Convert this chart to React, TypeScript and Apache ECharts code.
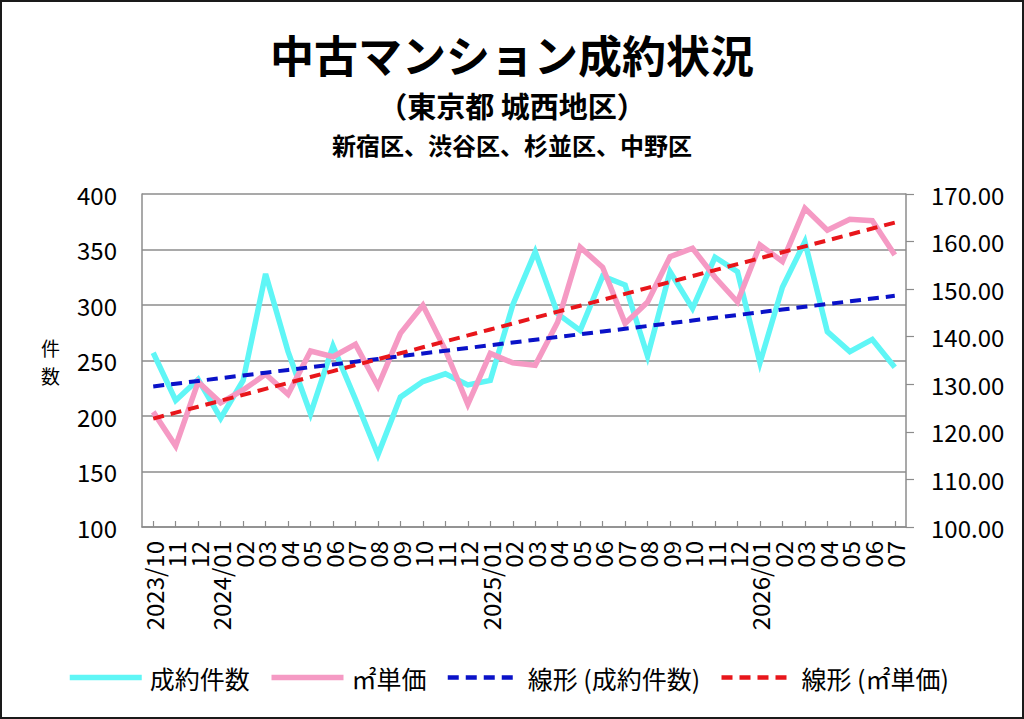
import React, { useEffect, useRef } from "react";
import * as echarts from "echarts";

const categories = [
  "2023/10", "11", "12", "2024/01", "02", "03", "04", "05", "06", "07", "08", "09",
  "10", "11", "12", "2025/01", "02", "03", "04", "05", "06", "07", "08", "09",
  "10", "11", "12", "2026/01", "02", "03", "04", "05", "06", "07",
];

const contractCounts = [
  257, 214, 233, 198, 232, 328, 258, 202, 263, 215, 165, 217, 231, 238, 228, 232, 300,
  348, 292, 277, 326, 318, 254, 330, 297, 343, 330, 248, 316, 357, 276, 258, 269, 244,
];

const unitPrices = [
  124.2, 117.0, 130.5, 126.1, 128.8, 132.1, 127.9, 137.0, 135.8, 138.4, 129.6, 140.7,
  146.6, 137.2, 125.8, 136.5, 134.5, 134.0, 143.1, 158.8, 154.6, 142.8, 147.3, 156.8,
  158.6, 152.5, 147.3, 159.3, 155.8, 167.0, 162.4, 164.7, 164.4, 157.2,
];

const leftTicks = { min: 100, max: 400, interval: 50 };
const rightTicks = { min: 100, max: 170, interval: 10 };

const seriesNames = ["成約件数", "㎡単価", "線形 (成約件数)", "線形 (㎡単価)"];

// Excel-style linear trendline (least squares over index)
function linearTrend(values: number[]): number[] {
  const n = values.length;
  let sx = 0, sy = 0, sxx = 0, sxy = 0;
  values.forEach((y, x) => {
    sx += x; sy += y; sxx += x * x; sxy += x * y;
  });
  const slope = (n * sxy - sx * sy) / (n * sxx - sx * sx);
  const icpt = (sy - slope * sx) / n;
  return values.map((_, x) => +(icpt + slope * x).toFixed(3));
}

const FONT = "'Noto Sans CJK JP', 'Noto Sans', sans-serif";
const CYAN = "#5ff6f6";
const PINK = "#f59ac4";
const BLUE = "#0a12c8";
const RED = "#e8161b";

export default function App() {
  const ref = useRef<HTMLDivElement>(null);

  useEffect(() => {
    if (!ref.current) return;
    const chart = echarts.init(ref.current, null, { renderer: "svg" });
    const option = {
      animation: false,
      backgroundColor: "#ffffff",
      textStyle: { fontFamily: FONT, color: "#000" },
      title: [
        {
          text: "中古マンション成約状況",
          left: "center",
          top: 24,
          textStyle: { fontFamily: FONT, fontSize: 44, lineHeight: 50, fontWeight: "bold", color: "#000" },
        },
        {
          text: "（東京都 城西地区）",
          left: "center",
          top: 90,
          padding: 0,
          textStyle: { fontFamily: FONT, fontSize: 29, lineHeight: 30, fontWeight: "bold", color: "#000" },
        },
        {
          text: "新宿区、渋谷区、杉並区、中野区",
          left: "center",
          top: 132,
          padding: 0,
          textStyle: { fontFamily: FONT, fontSize: 24, lineHeight: 24, fontWeight: "bold", color: "#000" },
        },
      ],
      graphic: [
        {
          type: "rect",
          shape: { x: 1, y: 1, width: 1022, height: 717 },
          style: { fill: "none", stroke: "#1a1a1a", lineWidth: 2 },
          silent: true,
        },
        {
          type: "text",
          left: 41,
          top: 334,
          style: { text: "件", fontFamily: FONT, fontSize: 19, lineHeight: 27, fill: "#000" },
        },
        {
          type: "text",
          left: 41,
          top: 362,
          style: { text: "数", fontFamily: FONT, fontSize: 19, lineHeight: 27, fill: "#000" },
        },
      ],
      legend: {
        left: 62,
        top: 660,
        itemWidth: 72,
        itemHeight: 14,
        itemGap: 19,
        itemStyle: { opacity: 0 },
        textStyle: { fontFamily: FONT, fontSize: 25, color: "#000", padding: [0, 0, 0, 3] },
        data: [
          { name: seriesNames[0], itemStyle: { opacity: 0 }, lineStyle: { width: 5.5 } },
          { name: seriesNames[1], itemStyle: { opacity: 0 }, lineStyle: { width: 5.5 } },
          { name: seriesNames[2], itemStyle: { opacity: 0 }, lineStyle: { width: 4.5 } },
          { name: seriesNames[3], itemStyle: { opacity: 0 }, lineStyle: { width: 4.5 } },
        ],
      },
      grid: { left: 142, right: 118, top: 194, bottom: 192, containLabel: false },
      xAxis: {
        type: "category",
        data: categories,
        boundaryGap: true,
        axisLine: { show: true, lineStyle: { color: "#8c8c8c", width: 1.5 } },
        axisTick: { show: true, inside: true, alignWithLabel: true, length: 6, lineStyle: { color: "#8c8c8c", width: 1.2 } },
        axisLabel: {
          interval: 0,
          rotate: 90,
          margin: 14,
          fontFamily: FONT,
          fontSize: 24,
          color: "#000",
        },
      },
      yAxis: [
        {
          type: "value",
          min: leftTicks.min,
          max: leftTicks.max,
          interval: leftTicks.interval,
          axisLine: { show: true, lineStyle: { color: "#8c8c8c", width: 1.5 } },
          axisTick: { show: false },
          splitLine: { show: true, lineStyle: { color: "#8c8c8c", width: 1.5 } },
          axisLabel: { margin: 25, fontFamily: FONT, fontSize: 24, color: "#000" },
        },
        {
          type: "value",
          position: "right",
          min: rightTicks.min,
          max: rightTicks.max,
          interval: rightTicks.interval,
          axisLine: { show: true, lineStyle: { color: "#8c8c8c", width: 1.5 } },
          axisTick: { show: true, length: 8, lineStyle: { color: "#8c8c8c", width: 1.2 } },
          splitLine: { show: false },
          axisLabel: {
            margin: 25,
            fontFamily: FONT,
            fontSize: 24,
            color: "#000",
            formatter: (v: number) => v.toFixed(2),
          },
        },
      ],
      series: [
        {
          name: seriesNames[0],
          type: "line",
          yAxisIndex: 0,
          data: contractCounts,
          symbol: "none",
          lineStyle: { color: CYAN, width: 5.5, join: "miter" },
          itemStyle: { color: CYAN },
          z: 2,
        },
        {
          name: seriesNames[1],
          type: "line",
          yAxisIndex: 1,
          data: unitPrices,
          symbol: "none",
          lineStyle: { color: PINK, width: 5.5, join: "miter" },
          itemStyle: { color: PINK },
          z: 3,
        },
        {
          name: seriesNames[2],
          type: "line",
          yAxisIndex: 0,
          data: linearTrend(contractCounts),
          symbol: "none",
          lineStyle: { color: BLUE, width: 4, type: [11, 7] },
          itemStyle: { color: BLUE },
          z: 4,
        },
        {
          name: seriesNames[3],
          type: "line",
          yAxisIndex: 1,
          data: linearTrend(unitPrices),
          symbol: "none",
          lineStyle: { color: RED, width: 4, type: [11, 7] },
          itemStyle: { color: RED },
          z: 5,
        },
      ],
    };
    chart.setOption(option);
    return () => chart.dispose();
  }, []);

  return (
    <div
      ref={ref}
      style={{ position: "fixed", left: 0, top: 0, width: 1024, height: 719, background: "#fff" }}
    />
  );
}
